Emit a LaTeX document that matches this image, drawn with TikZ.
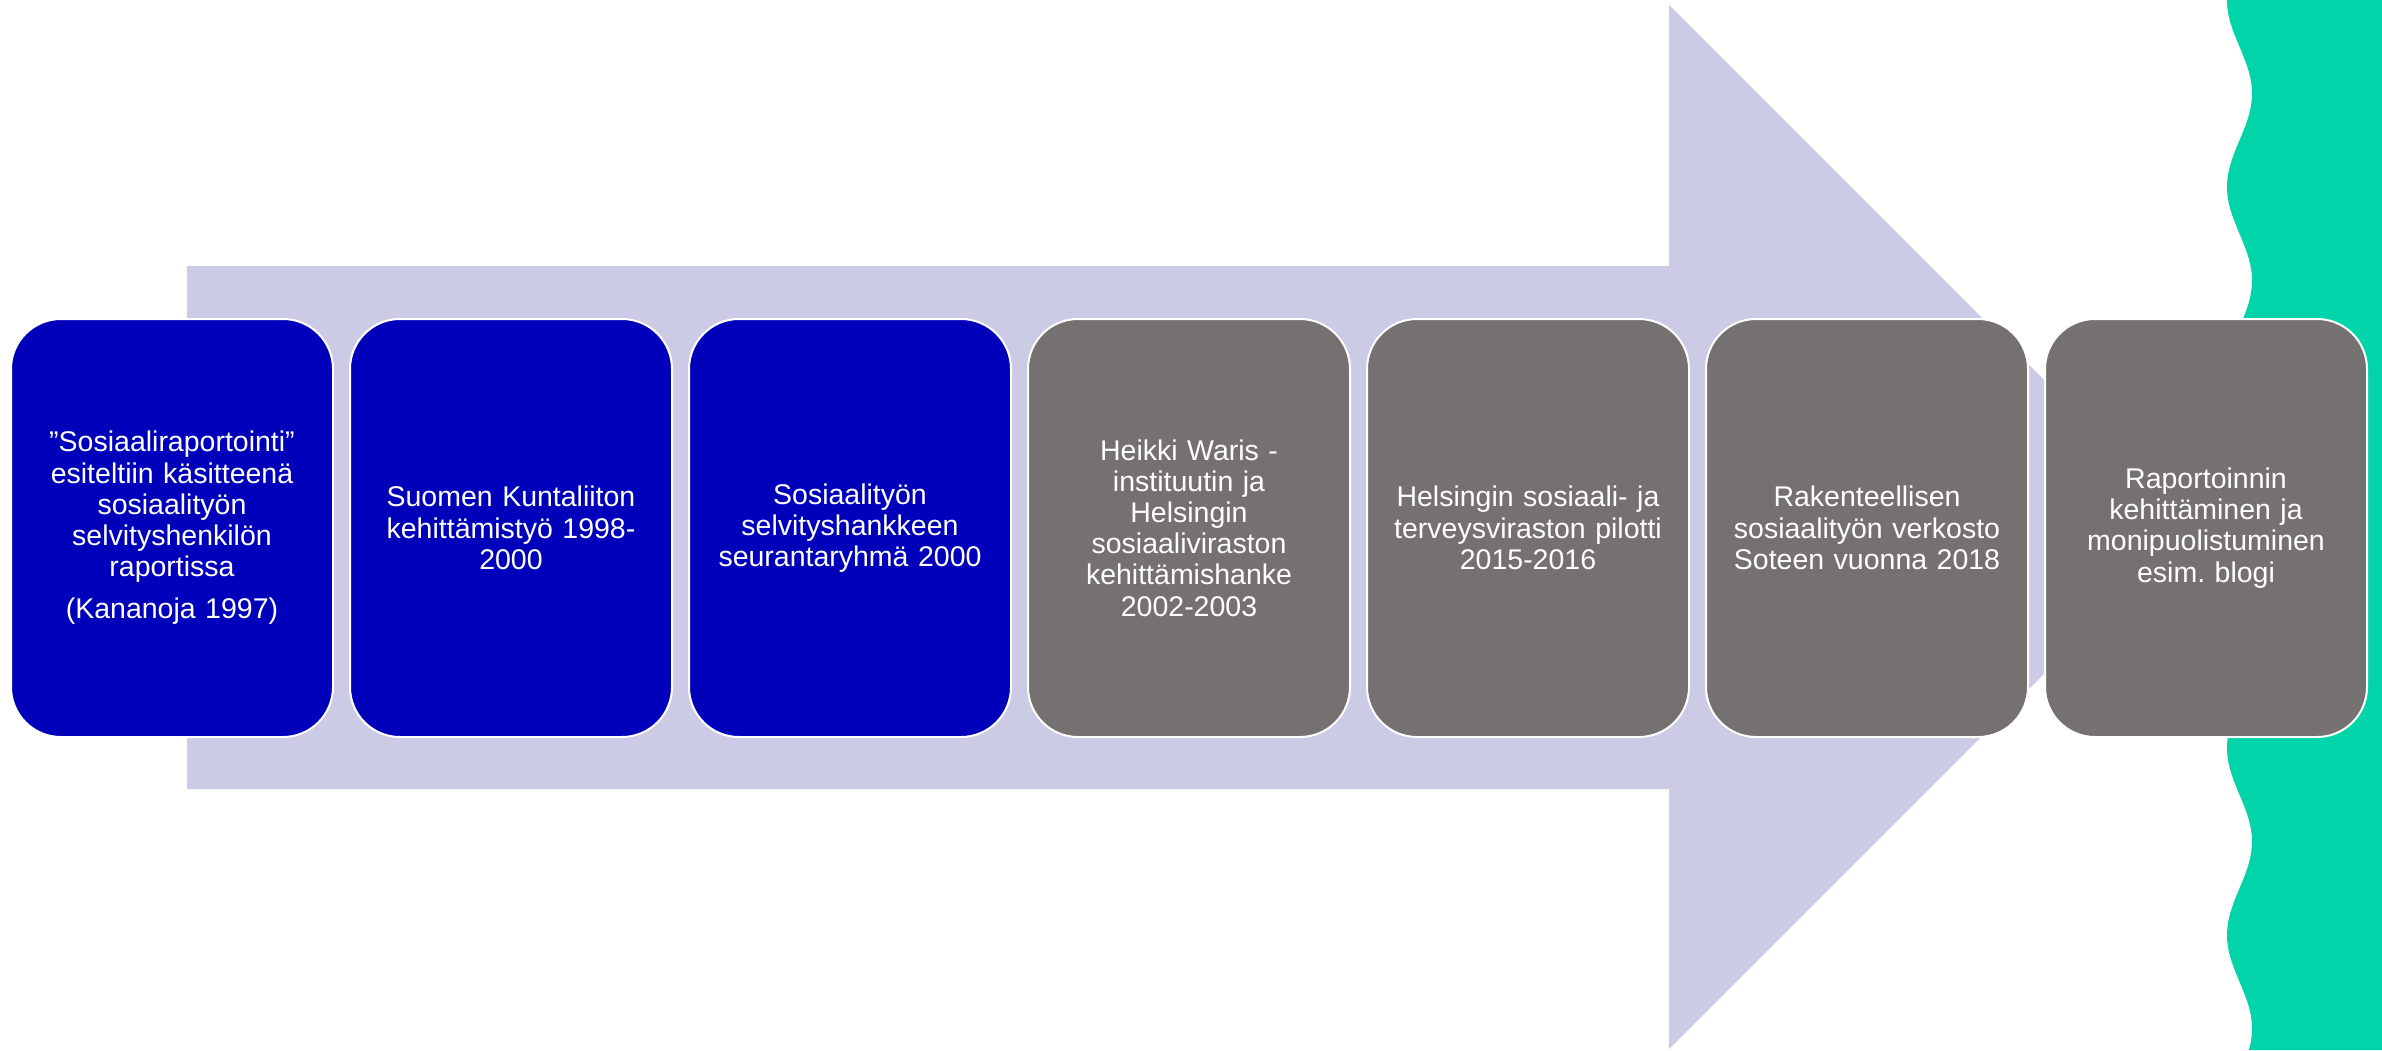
\documentclass[tikz,border=0pt]{standalone}
\usepackage{fontspec}
\setmainfont{Liberation Sans}
\usetikzlibrary{positioning}
\frenchspacing

\definecolor{arrowlav}{RGB}{203,203,230}
\definecolor{stepblue}{RGB}{0,0,187}
\definecolor{stepgray}{RGB}{118,113,113}
\definecolor{wavegreen}{RGB}{0,212,168}

\tikzset{
  stepbox/.style={draw=white, line width=2pt, outer sep=0pt, rounded corners=50pt,
    minimum width=322pt, minimum height=418pt, text width=300pt, align=center,
    text=white, font=\fontsize{28.5}{31.2}\selectfont},
  oldstep/.style={stepbox, fill=stepblue},
  newstep/.style={stepbox, fill=stepgray}
}

\begin{document}
\begin{tikzpicture}[x=1pt,y=1pt,yscale=-1,xscale=1]
\useasboundingbox (0,0) rectangle (2382,1050);

%Shape: Right Arrow
\fill [arrowlav] (187,266) -- (1669,266) -- (1669,5) -- (2191,527) -- (1669,1049) -- (1669,789) -- (187,789) -- cycle ;
%Shape: Wave
\fill [wavegreen] (2382,0) -- plot [domain=0:1050, samples=240, smooth] ({2239.5-12.5*cos(\x/187*360)}, \x) -- (2382,1050) -- cycle ;

% Text Node
\node [oldstep] (kananoja) at (172,528) {”Sosiaaliraportointi”\\esiteltiin käsitteenä\\sosiaalityön\\selvityshenkilön\\raportissa\\[11pt](Kananoja 1997)};
\node [oldstep, right=17pt of kananoja] (kuntaliitto) {Suomen Kuntaliiton\\kehittämistyö 1998-\\2000};
\node [oldstep, right=17pt of kuntaliitto] (seuranta) {Sosiaalityön\\selvityshankkeen\\seurantaryhmä 2000};
\node [newstep, right=17pt of seuranta] (waris) {Heikki Waris -\\instituutin ja\\Helsingin\\sosiaaliviraston\\kehittämishanke\\2002-2003};
\node [newstep, right=17pt of waris] (pilotti) {Helsingin sosiaali- ja\\terveysviraston pilotti\\2015-2016};
\node [newstep, right=17pt of pilotti] (verkosto) {Rakenteellisen\\sosiaalityön verkosto\\Soteen vuonna 2018};
\node [newstep, right=17pt of verkosto] (blogi) {Raportoinnin\\kehittäminen ja\\monipuolistuminen\\esim. blogi};
\end{tikzpicture}
\end{document}
